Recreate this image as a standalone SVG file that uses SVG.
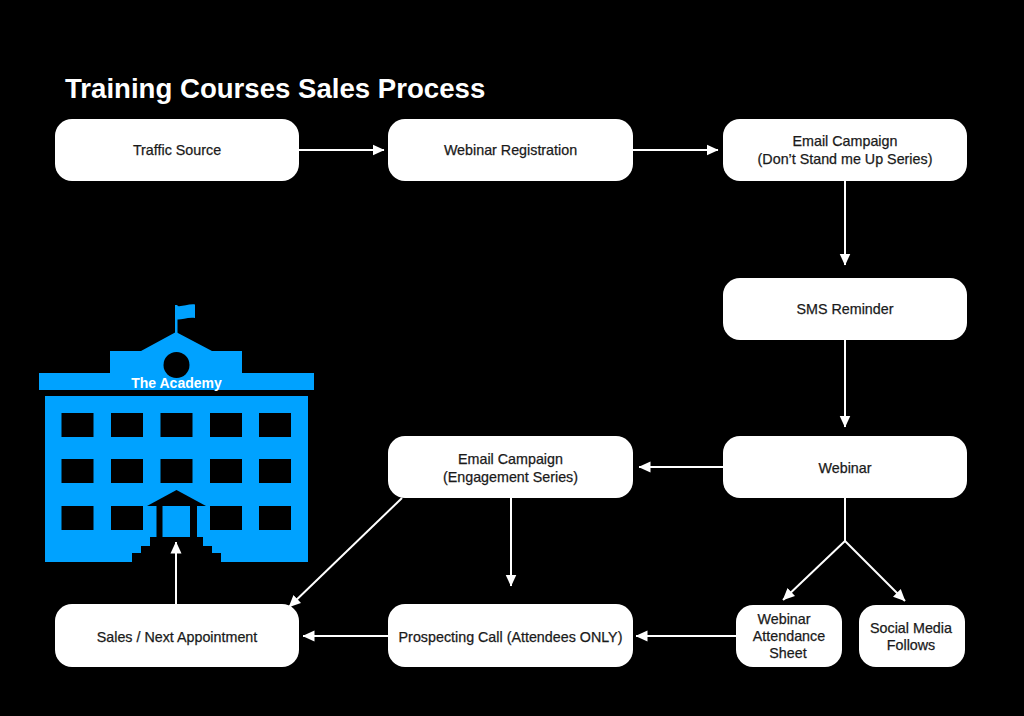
<svg xmlns="http://www.w3.org/2000/svg" width="1024" height="716" viewBox="0 0 1024 716">
  <style>
    .box { fill: #fff; }
    .label { font-family: "Liberation Sans", Arial, sans-serif; font-size: 14.3px; fill: #1a1a1a; stroke: #1a1a1a; stroke-width: 0.25; text-anchor: middle; }
    .title { font-family: "Liberation Sans", Arial, sans-serif; font-size: 27.6px; font-weight: 700; fill: #fff; }
    .sign { font-family: "Liberation Sans", Arial, sans-serif; font-size: 14px; font-weight: 700; fill: #fff; text-anchor: middle; }
    .link { fill: none; stroke: #fff; stroke-width: 2; marker-end: url(#head); }
    .plain { fill: none; stroke: #fff; stroke-width: 2; }
    .hall { fill: #00a2ff; }
    .cut { fill: #000; }
  </style>
  <defs>
    <marker id="head" markerUnits="userSpaceOnUse" markerWidth="12" markerHeight="12" viewBox="0 0 12 12" refX="11.500" refY="6" orient="auto">
      <path d="M0 0.500L12 6L0 11.500z" fill="#fff"/>
    </marker>
  </defs>
  <rect width="1024" height="716" fill="#000"/>
  <text class="title" x="65" y="98">Training Courses Sales Process</text>

  <g id="academy">
    <rect class="hall" x="175" y="305" width="2.500" height="29"/>
    <path class="hall" d="M175 305.500C181 308 188 303.500 195 304.500L195 318C188 317 181 320 177 319.500L175 319.500z"/>
    <path class="hall" d="M176 332L141 351H110V373H39V390H314V373H242V351H212z"/>
    <circle class="cut" cx="176.500" cy="365" r="13"/>
    <rect class="hall" x="45" y="396" width="263" height="166"/>
    <g class="cut">
      <rect x="61.500" y="413" width="32" height="24"/><rect x="111" y="413" width="32" height="24"/><rect x="160.500" y="413" width="32" height="24"/><rect x="210" y="413" width="32" height="24"/><rect x="259" y="413" width="32" height="24"/>
      <rect x="61.500" y="459" width="32" height="24"/><rect x="111" y="459" width="32" height="24"/><rect x="160.500" y="459" width="32" height="24"/><rect x="210" y="459" width="32" height="24"/><rect x="259" y="459" width="32" height="24"/>
      <rect x="61.500" y="506" width="32" height="24"/><rect x="111" y="506" width="32" height="24"/><rect x="210" y="506" width="32" height="24"/><rect x="259" y="506" width="32" height="24"/>
      <path d="M176.500 490L147 506H206z"/>
      <path d="M156.500 506H197V537H203V546H212V553H221V562H132V553H141V546H150V537H156.500z"/>
    </g>
    <rect class="hall" x="162.500" y="506" width="27.500" height="31"/>
    <text class="sign" x="176.500" y="388">The Academy</text>
  </g>

  <g id="connectors">
    <path class="link" d="M299 150H384"/>
    <path class="link" d="M633 150H718"/>
    <path class="link" d="M845 181V265"/>
    <path class="link" d="M845 340V427"/>
    <path class="link" d="M723 467H639"/>
    <path class="plain" d="M845 498V541"/>
    <path class="link" d="M845 541L783 600"/>
    <path class="link" d="M845 541L905 601"/>
    <path class="link" d="M736 636H636"/>
    <path class="link" d="M388 636H303"/>
    <path class="link" d="M511 498V586"/>
    <path class="link" d="M402 498L289 607"/>
    <path class="link" d="M176 604V542"/>
  </g>

  <g id="traffic-source"><rect class="box" x="55" y="119" width="244" height="62" rx="17"/><text class="label" x="177" y="155">Traffic Source</text></g>
  <g id="webinar-registration"><rect class="box" x="388" y="119" width="245" height="62" rx="17"/><text class="label" x="510.500" y="155">Webinar Registration</text></g>
  <g id="email-dont-stand"><rect class="box" x="723" y="119" width="244" height="62" rx="17"/><text class="label" x="845" y="146">Email Campaign</text><text class="label" x="845" y="164">(Don’t Stand me Up Series)</text></g>
  <g id="sms-reminder"><rect class="box" x="723" y="278" width="244" height="62" rx="17"/><text class="label" x="845" y="314">SMS Reminder</text></g>
  <g id="webinar"><rect class="box" x="723" y="436" width="244" height="62" rx="17"/><text class="label" x="845" y="473">Webinar</text></g>
  <g id="email-engagement"><rect class="box" x="388" y="436" width="245" height="62" rx="17"/><text class="label" x="510.500" y="464">Email Campaign</text><text class="label" x="510.500" y="482">(Engagement Series)</text></g>
  <g id="sales-appointment"><rect class="box" x="55" y="604" width="244" height="63" rx="17"/><text class="label" x="177" y="642">Sales / Next Appointment</text></g>
  <g id="prospecting-call"><rect class="box" x="388" y="604" width="245" height="63" rx="17"/><text class="label" x="510.500" y="642">Prospecting Call (Attendees ONLY)</text></g>
  <g id="attendance-sheet"><rect class="box" x="736" y="605" width="106" height="62" rx="17"/><text class="label" x="784" y="624">Webinar</text><text class="label" x="789" y="641">Attendance</text><text class="label" x="788" y="658">Sheet</text></g>
  <g id="social-follows"><rect class="box" x="859" y="605" width="106" height="62" rx="17"/><text class="label" x="911" y="633">Social Media</text><text class="label" x="911" y="650">Follows</text></g>
</svg>
